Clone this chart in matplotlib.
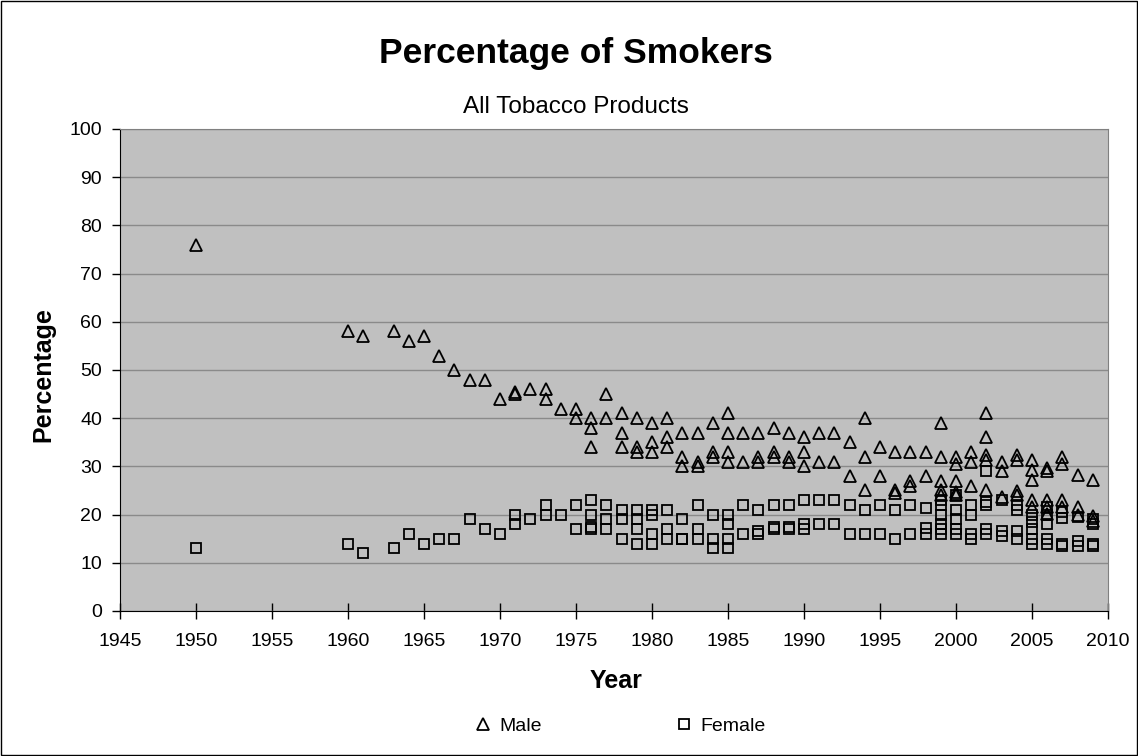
import numpy as np
from matplotlib import pyplot as plt

plt.rcParams['font.family'] = ['Liberation Sans', 'DejaVu Sans']

# datos: año -> valores (hombres / mujeres)
male_years = [1950, 1960, 1961, 1963, 1964, 1965, 1966, 1967, 1968, 1969, 1970,
              1971, 1971, 1972, 1973, 1973, 1974, 1975, 1975,
              1976, 1976, 1976, 1977, 1977, 1978, 1978, 1978,
              1979, 1979, 1979, 1980, 1980, 1980, 1981, 1981, 1981,
              1982, 1982, 1982, 1983, 1983, 1983, 1984, 1984, 1984,
              1985, 1985, 1985, 1985, 1986, 1986, 1987, 1987, 1987,
              1988, 1988, 1988, 1989, 1989, 1989, 1990, 1990, 1990,
              1991, 1991, 1992, 1992, 1993, 1993, 1994, 1994, 1994,
              1995, 1995, 1996, 1996, 1996, 1997, 1997, 1997, 1998, 1998,
              1999, 1999, 1999, 1999, 1999, 2000, 2000, 2000, 2000, 2000,
              2001, 2001, 2001, 2002, 2002, 2002, 2002, 2002,
              2003, 2003, 2003, 2004, 2004, 2004, 2004,
              2005, 2005, 2005, 2005, 2005, 2006, 2006, 2006, 2006, 2006,
              2007, 2007, 2007, 2007, 2008, 2008, 2008, 2009, 2009, 2009]
male_vals = [76, 58, 57, 58, 56, 57, 53, 50, 48, 48, 44,
             45, 45.5, 46, 46, 44, 42, 42, 40,
             40, 38, 34, 40, 45, 41, 37, 34,
             40, 34, 33, 39, 35, 33, 40, 36, 34,
             37, 32, 30, 37, 31, 30, 39, 33, 32,
             41, 37, 33, 31, 37, 31, 37, 32, 31,
             38, 33, 32, 37, 32, 31, 36, 33, 30,
             37, 31, 37, 31, 35, 28, 40, 32, 25,
             34, 28, 33, 25, 24.5, 33, 27, 26, 33, 28,
             39, 32, 27, 25, 24, 32, 30.5, 27, 24.7, 24,
             33, 31, 26, 41, 36, 32.4, 31.3, 25,
             31, 29, 23.7, 32.4, 31.3, 24.8, 24,
             31.3, 29.3, 27.2, 23, 21.6, 29.6, 29, 23, 21.6, 20.2,
             32, 30.5, 23, 21.6, 28.2, 21.6, 20, 27.2, 19.8, 18.7]

female_years = [1950, 1960, 1961, 1963, 1964, 1965, 1966, 1967, 1968, 1969, 1970,
                1971, 1971, 1972, 1973, 1973, 1974, 1975, 1975,
                1976, 1976, 1976, 1976, 1977, 1977, 1977, 1978, 1978, 1978,
                1979, 1979, 1979, 1979, 1980, 1980, 1980, 1980, 1981, 1981, 1981,
                1982, 1982, 1982, 1983, 1983, 1983, 1984, 1984, 1984,
                1985, 1985, 1985, 1985, 1986, 1986, 1987, 1987, 1987,
                1988, 1988, 1988, 1989, 1989, 1989, 1990, 1990, 1990,
                1991, 1991, 1992, 1992, 1993, 1993, 1994, 1994, 1995, 1995,
                1996, 1996, 1997, 1997, 1998, 1998, 1998,
                1999, 1999, 1999, 1999, 1999, 1999, 2000, 2000, 2000, 2000, 2000,
                2001, 2001, 2001, 2001, 2002, 2002, 2002, 2002, 2002,
                2003, 2003, 2003, 2004, 2004, 2004, 2004,
                2005, 2005, 2005, 2005, 2005, 2006, 2006, 2006, 2006, 2006,
                2007, 2007, 2007, 2007, 2008, 2008, 2008, 2009, 2009, 2009, 2009]
female_vals = [13, 14, 12, 13, 16, 14, 15, 15, 19, 17, 16,
               20, 18, 19, 22, 20, 20, 22, 17,
               23, 20, 17, 17.5, 22, 19, 17, 21, 19, 15,
               21, 19, 17, 14, 21, 20, 16, 14, 21, 17, 15,
               19, 15, 15, 22, 17, 15, 20, 15, 13,
               20, 18, 15, 13, 22, 16, 21, 16, 16.5,
               22, 17, 17.5, 22, 17, 17.5, 23, 18, 17,
               23, 18, 23, 18, 22, 16, 21, 16, 22, 16,
               21, 15, 22, 16, 21.4, 17.2, 16,
               23, 22, 20, 18, 17, 16, 24, 21, 19, 17, 16,
               22, 20, 16, 15, 29, 22.7, 22, 17, 16,
               23, 16.5, 15.5, 22, 21, 16.5, 15,
               20, 18.5, 17, 15, 14, 21.5, 20, 18, 15, 14,
               19.2, 20.5, 14, 13.5, 19.5, 14.5, 13.5, 19, 18, 14, 13.4]

fig = plt.figure(figsize=(11.38, 7.56), dpi=100)
ax = fig.add_axes([0.1054, 0.1918, 0.8682, 0.6376])
ax.set_facecolor('#C0C0C0')

ax.plot(male_years, male_vals, linestyle='none', marker='^', markersize=8.5,
        markerfacecolor='none', markeredgecolor='black', markeredgewidth=1.3,
        label='Male')
ax.plot(female_years, female_vals, linestyle='none', marker='s', markersize=7,
        markerfacecolor='none', markeredgecolor='black', markeredgewidth=1.3,
        label='Female')

ax.set_xlim(1945, 2010)
ax.set_ylim(0, 100)
ax.set_xticks(np.arange(1945, 2011, 5))
ax.set_yticks(np.arange(0, 101, 10))
ax.grid(axis='y', color='#8a8a8a', linewidth=1)
ax.set_axisbelow(True)
ax.tick_params(axis='x', labelsize=14, direction='inout', length=12, width=1, pad=10)
ax.tick_params(axis='y', labelsize=14, direction='out', length=6, width=1, pad=7)

for s in ['top', 'right']:
    ax.spines[s].set_color('#808080')
for s in ['left', 'bottom']:
    ax.spines[s].set_color('black')

ax.set_xlabel('Year', fontsize=18, fontweight='bold', va='baseline')
ax.xaxis.set_label_coords(0.502, -0.1598)
ax.set_ylabel('Percentage', fontsize=18, fontweight='bold', va='center')
ax.yaxis.set_label_coords(-0.0779, 0.49)

fig.text(0.506, 1 - 63 / 756, 'Percentage of Smokers', ha='center', va='baseline',
         fontsize=25.5, fontweight='bold')
fig.text(0.506, 1 - 113 / 756, 'All Tobacco Products', ha='center', va='baseline',
         fontsize=17.5)

fig.legend(loc='center', bbox_to_anchor=(0.5444, 0.0397), ncol=2, frameon=False,
           fontsize=14, handlelength=1.0, handletextpad=0.33, columnspacing=6.8)

# borde exterior del grafico
fig.patches.append(plt.Rectangle((0.001, 0.001), 0.998, 0.998, transform=fig.transFigure,
                                 fill=False, edgecolor='black', linewidth=1))

fig.savefig('out.png', dpi=100)
